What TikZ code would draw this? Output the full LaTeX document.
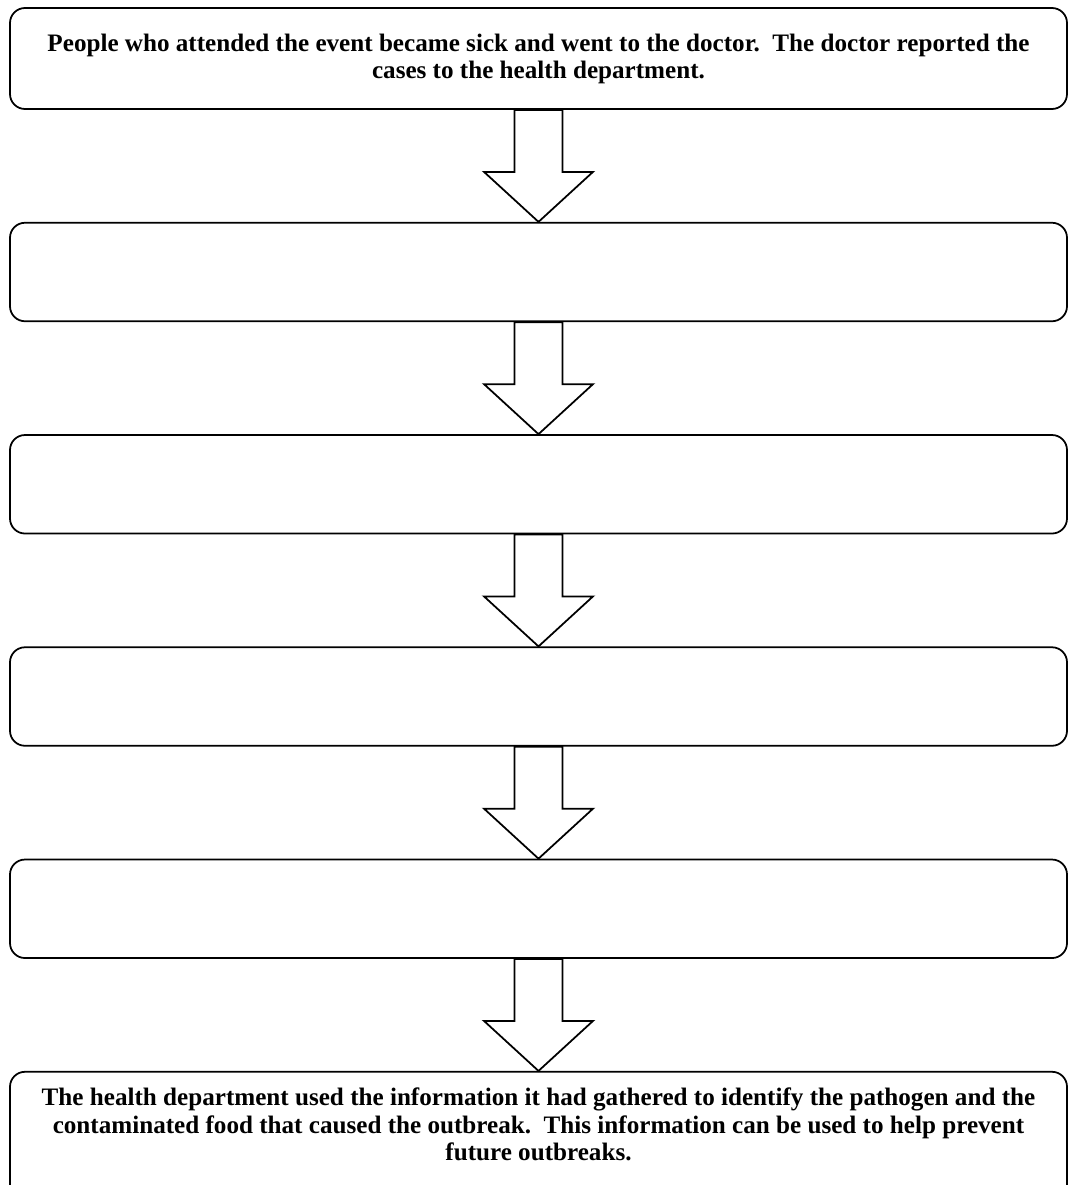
\documentclass[tikz,border=0pt]{standalone}
\usepackage{fontspec}
\setmainfont{Liberation Serif}
\usepackage{tikz}
\usetikzlibrary{positioning}
\tikzset{
  stepbox/.style={rectangle, rounded corners=0.3cm, draw, line width=1pt, minimum width=21.14cm, minimum height=1.97cm, align=center, font=\bfseries\fontsize{14.3}{15.4}\selectfont},
  steptext/.style={inner sep=0pt, align=center, font=\bfseries\fontsize{14.3}{15.4}\selectfont},
  blockarrow/.style={draw, line width=1pt, fill=white, line join=miter},
}

\begin{document}
\begin{tikzpicture}[node distance=2.24cm]
  \clip (0,0) rectangle (21.38,-23.70);

  % Boxes
  \node[stepbox, minimum height=2.02cm] (b1) at (10.77,-1.17) {People who attended the event became sick and went to the doctor.\ \ The doctor reported the\\cases to the health department.};
  \node[stepbox, below=of b1] (b2) {};
  \node[stepbox, below=of b2] (b3) {};
  \node[stepbox, below=of b3] (b4) {};
  \node[stepbox, below=of b4] (b5) {};
  \node[stepbox, below=of b5, minimum height=2.6cm] (b6) {};
  \node[steptext, below=0.34cm of b6.north] (t6) {The health department used the information it had gathered to identify the pathogen and the\\contaminated food that caused the outbreak.\ \ This information can be used to help prevent\\future outbreaks.};

  % Arrows between boxes
  \draw[blockarrow] ([xshift=-0.48cm]b1.south) -- ++(0,-1.24) -- ++(-0.61,0) -- (b2.north)
    -- ++(1.09,1.0) -- ++(-0.61,0) -- ([xshift=0.48cm]b1.south) -- cycle;
  \draw[blockarrow] ([xshift=-0.48cm]b2.south) -- ++(0,-1.24) -- ++(-0.61,0) -- (b3.north)
    -- ++(1.09,1.0) -- ++(-0.61,0) -- ([xshift=0.48cm]b2.south) -- cycle;
  \draw[blockarrow] ([xshift=-0.48cm]b3.south) -- ++(0,-1.24) -- ++(-0.61,0) -- (b4.north)
    -- ++(1.09,1.0) -- ++(-0.61,0) -- ([xshift=0.48cm]b3.south) -- cycle;
  \draw[blockarrow] ([xshift=-0.48cm]b4.south) -- ++(0,-1.24) -- ++(-0.61,0) -- (b5.north)
    -- ++(1.09,1.0) -- ++(-0.61,0) -- ([xshift=0.48cm]b4.south) -- cycle;
  \draw[blockarrow] ([xshift=-0.48cm]b5.south) -- ++(0,-1.24) -- ++(-0.61,0) -- (b6.north)
    -- ++(1.09,1.0) -- ++(-0.61,0) -- ([xshift=0.48cm]b5.south) -- cycle;

\end{tikzpicture}
\end{document}
